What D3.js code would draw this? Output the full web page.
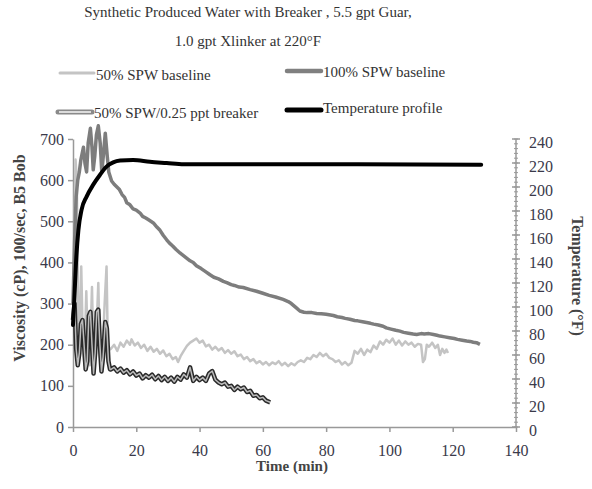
<!DOCTYPE html>
<html>
<head>
<meta charset="utf-8">
<script src="https://cdn.jsdelivr.net/npm/d3@7"></script>
<style>
  body { margin: 0; background: #fff; }
  text { font-family: "Liberation Serif", "Times New Roman", serif; }
</style>
</head>
<body>
<div id="chart"></div>
<script>
// Data: [time (min), value]
const spw50Baseline = [
  [0,250],[0.4,420],[0.8,650],[1.2,600],[1.6,300],[2.0,200],[2.6,390],[3.1,210],[3.6,150],
  [4.2,330],[4.7,180],[5.3,150],[6.0,340],[6.5,160],[7.2,190],[8.0,350],[8.5,170],[9.2,160],
  [10.0,300],[10.6,390],[11.0,200],[11.7,189],[12,190],[13,200],[14,185],[15,205],[16,195],
  [17,210],[18,200],[18.5,213],[19.5,198],[20.5,205],[21.5,192],[22.5,200],[23.5,185],[24.5,195],
  [25.5,183],[26.5,190],[27.5,178],[28.5,186],[29.5,172],[30.5,178],[31.5,165],[32.5,170],
  [33.2,158],[34,172],[35,185],[36,197],[37,205],[38,210],[39,215],[40,205],[41,210],[42,196],
  [43,200],[44,188],[45,195],[46,186],[47,192],[48,180],[49,187],[50,178],[51,184],[52,172],
  [53,176],[54,165],[55,170],[56,160],[57,165],[58,155],[59,160],[60,152],[61,158],[62,150],
  [63,157],[64,153],[65,160],[66,150],[67,156],[68,148],[69,155],[70,150],[71,158],[72,162],
  [73,158],[74,168],[75,165],[76,175],[77,170],[78,180],[79,172],[80,178],[81,168],[82,165],
  [83,158],[84,162],[85,152],[86,158],[87,150],[88,156],[89,185],[90,178],[91,190],[92,175],
  [93,188],[94,182],[95,198],[96,190],[97,208],[98,200],[99,212],[100,205],[101,215],[102,200],
  [103,210],[104,198],[105,208],[106,200],[107,205],[108,195],[109,202],[110,200],[110.6,158],
  [111.2,165],[111.8,200],[112.5,195],[113.5,205],[114.5,192],[115.3,200],[116,175],[116.7,190],
  [117.4,180],[118,188],[118.5,180]
];

const spw100Baseline = [
  [0,300],[0.5,450],[1,560],[1.5,600],[2,620],[2.5,650],[3.3,680],[3.8,640],[4.3,620],
  [4.8,690],[5.5,726],[6.0,680],[6.4,625],[6.9,660],[7.4,710],[8.0,732],[8.6,690],[9.1,620],
  [9.6,660],[10.2,714],[10.8,660],[11.3,620],[12.2,598],[13,590],[13.8,584],[14.6,578],
  [15.5,565],[16.3,558],[17,545],[18,540],[19,530],[20,527],[21.2,520],[22,512],[23,508],
  [24,503],[25.4,496],[26.5,486],[27.5,478],[28.5,466],[29.6,455],[30.5,447],[31.5,440],
  [32.5,432],[33.8,423],[35,416],[36,410],[37,404],[38,400],[39,392],[40.5,385],[42,377],
  [43.3,370],[44.5,364],[46,360],[47.5,354],[48.6,351],[50,346],[51,344],[52.5,340],
  [53.8,339],[56,334],[58,330],[60,325],[62,320],[64,316],[66.4,310],[68,305],[69,300],
  [70.5,290],[71.7,282],[73,279],[74,278],[75.5,278],[77,276],[78.5,275],[80,274],[82.3,271],
  [83.5,268],[85,266],[86,264],[87.5,262],[89,259],[90,258],[91.5,256],[92.8,254],[94,252],
  [95,250],[96.5,248],[98,245],[99,241],[100.5,238],[102,235],[103.3,233],[104.5,230],
  [106,228],[107.5,226],[108.6,225],[110,227],[111,226],[112.5,227],[113.9,225],[115,223],
  [116,221],[117.5,219],[119,217],[120.5,215],[121.5,213],[123,211],[124.4,209],[125.5,208],
  [126.5,206],[127.5,205],[128.6,201]
];

const breaker = [
  [0,260],[0.5,300],[1,190],[1.5,150],[2,180],[2.5,250],[3,260],[3.5,200],[4,140],[4.5,160],
  [5,270],[5.5,280],[6,200],[6.5,130],[7,180],[7.5,280],[8,285],[8.5,200],[9,135],[9.5,170],
  [10.2,255],[10.7,240],[11.2,160],[11.7,140],[12,140],[13,145],[14,135],[15,142],[16,132],
  [17,138],[18,128],[19,135],[20,125],[21,130],[22,118],[23,126],[24,120],[25,127],[26,116],
  [27,124],[28,114],[29,122],[30,112],[31,120],[32,110],[33,122],[34,115],[35,128],[36,120],
  [37,145],[38,112],[39,122],[40,114],[41,120],[42,112],[43,130],[44,136],[45,115],[46,108],
  [47,104],[48,108],[49,98],[50,100],[51,90],[52,98],[53,92],[54,96],[55,85],[56,88],[57,76],
  [58,78],[59,70],[60,72],[61,64],[62.3,60]
];

const temperature = [
  [0,85],[0.4,105],[0.95,137],[1.7,164],[2.7,181],[4.3,192],[6.4,202],[8.5,210],[10.6,217],
  [12.7,220.5],[14.9,222],[19,222.5],[24.3,221],[29.6,220],[35,219],[60,219],[90,219],[129,218.5]
];

const titleLines = ["Synthetic Produced Water with Breaker , 5.5 gpt Guar,", "1.0 gpt Xlinker at 220\u00B0F"];
const xTicks = [0, 20, 40, 60, 80, 100, 120, 140];
const yLeftTicks = [0, 100, 200, 300, 400, 500, 600, 700];
const yRightTicks = [0, 20, 40, 60, 80, 100, 120, 140, 160, 180, 200, 220, 240];

const width = 592, height = 489;
const plotLeft = 73, plotRight = 516, plotTop = 139, plotBottom = 427;

const x = d3.scaleLinear().domain([0, 140]).range([plotLeft, plotRight]);
const yL = d3.scaleLinear().domain([0, 700]).range([plotBottom, plotTop]);
const yR = d3.scaleLinear().domain([0, 240]).range([plotBottom, plotTop]);

const svg = d3.select("#chart").append("svg")
    .attr("width", width)
    .attr("height", height);

// title
svg.append("g").selectAll("text")
    .data(titleLines)
    .join("text")
    .attr("x", 248)
    .attr("y", (d, i) => 17 + i * 29)
    .attr("text-anchor", "middle")
    .attr("font-size", 15)
    .attr("fill", "#333")
    .text(d => d);

// axes
const axisColor = "#999";
function styleAxis(g) {
    g.selectAll("path, line").attr("stroke", axisColor).attr("stroke-width", 1.5);
    g.selectAll("text").attr("fill", "#3a3a4a").attr("font-size", 16)
        .attr("font-family", "Liberation Serif, serif");
}

svg.append("g")
    .attr("transform", `translate(0,${plotBottom})`)
    .call(d3.axisBottom(x).tickValues(xTicks).tickSize(5).tickSizeOuter(0).tickPadding(13))
    .call(styleAxis);

svg.append("g")
    .attr("transform", `translate(${plotLeft},0)`)
    .call(d3.axisLeft(yL).tickValues(yLeftTicks).tickSize(5).tickSizeOuter(0).tickPadding(4))
    .call(styleAxis);

// right axis with minor ticks
const rAxis = svg.append("g").attr("transform", `translate(${plotRight},0)`);
rAxis.append("line")
    .attr("y1", yR(0)).attr("y2", yR(240))
    .attr("stroke", axisColor).attr("stroke-width", 1.5);
rAxis.selectAll("line.minor")
    .data(d3.range(0, 241, 4))
    .join("line")
    .attr("class", "minor")
    .attr("x1", -2).attr("x2", 2)
    .attr("y1", d => yR(d)).attr("y2", d => yR(d))
    .attr("stroke", axisColor).attr("stroke-width", 1);
rAxis.selectAll("line.major")
    .data(yRightTicks)
    .join("line")
    .attr("class", "major")
    .attr("x1", -4).attr("x2", 4)
    .attr("y1", d => yR(d)).attr("y2", d => yR(d))
    .attr("stroke", axisColor).attr("stroke-width", 1.5);
rAxis.selectAll("text")
    .data(yRightTicks)
    .join("text")
    .attr("x", 13)
    .attr("y", d => yR(d) + 9)
    .attr("font-size", 16)
    .attr("fill", "#3a3a4a")
    .text(d => d);

// axis titles
svg.append("text")
    .attr("transform", "translate(25,258) rotate(-90)")
    .attr("text-anchor", "middle")
    .attr("font-size", 16)
    .attr("font-weight", "bold")
    .attr("fill", "#444")
    .text("Viscosity (cP), 100/sec, B5 Bob");

svg.append("text")
    .attr("transform", "translate(572,276) rotate(90)")
    .attr("text-anchor", "middle")
    .attr("font-size", 16)
    .attr("font-weight", "bold")
    .attr("fill", "#444")
    .text("Temperature (\u00B0F)");

svg.append("text")
    .attr("x", 292)
    .attr("y", 471)
    .attr("text-anchor", "middle")
    .attr("font-size", 15)
    .attr("font-weight", "bold")
    .attr("fill", "#444")
    .text("Time (min)");

// series
const lineL = d3.line().x(d => x(d[0])).y(d => yL(d[1])).curve(d3.curveLinear);
const lineR = d3.line().x(d => x(d[0])).y(d => yR(d[1])).curve(d3.curveMonotoneX);

const plot = svg.append("g").attr("fill", "none").attr("stroke-linejoin", "round");

plot.append("path").datum(spw50Baseline).attr("d", lineL)
    .attr("stroke", "#c4c4c4").attr("stroke-width", 2.5);

plot.append("path").datum(spw100Baseline).attr("d", lineL)
    .attr("stroke", "#7d7d7d").attr("stroke-width", 3.5);

plot.append("path").datum(breaker).attr("d", lineL)
    .attr("stroke", "#2a2a2a").attr("stroke-width", 4.5);
plot.append("path").datum(breaker).attr("d", lineL)
    .attr("stroke", "#bbbbbb").attr("stroke-width", 1.5);

plot.append("path").datum(temperature).attr("d", lineR)
    .attr("stroke", "#000").attr("stroke-width", 4).attr("stroke-linecap", "round");

// legend
const legendItems = [
  {name: "50% SPW baseline", x: 60, y: 73, ty: 80, color: "#c4c4c4", w: 3, inner: null},
  {name: "100% SPW baseline", x: 287, y: 71, ty: 77, color: "#808080", w: 4.5, inner: null},
  {name: "50% SPW/0.25 ppt breaker", x: 58, y: 112, ty: 118, color: "#8a8a8a", w: 5, inner: "#dcdcdc"},
  {name: "Temperature profile", x: 287, y: 110, ty: 113, color: "#000", w: 5, inner: null}
];
const legend = svg.append("g").selectAll("g")
    .data(legendItems)
    .join("g");
legend.append("line")
    .attr("x1", d => d.x).attr("x2", d => d.x + 34)
    .attr("y1", d => d.y).attr("y2", d => d.y)
    .attr("stroke", d => d.color).attr("stroke-width", d => d.w)
    .attr("stroke-linecap", "round");
legend.filter(d => d.inner).append("line")
    .attr("x1", d => d.x + 1).attr("x2", d => d.x + 33)
    .attr("y1", d => d.y).attr("y2", d => d.y)
    .attr("stroke", d => d.inner).attr("stroke-width", 2);
legend.append("text")
    .attr("x", d => d.x + 36)
    .attr("y", d => d.ty)
    .attr("font-size", 15)
    .attr("fill", "#333")
    .text(d => d.name);
</script>
</body>
</html>
